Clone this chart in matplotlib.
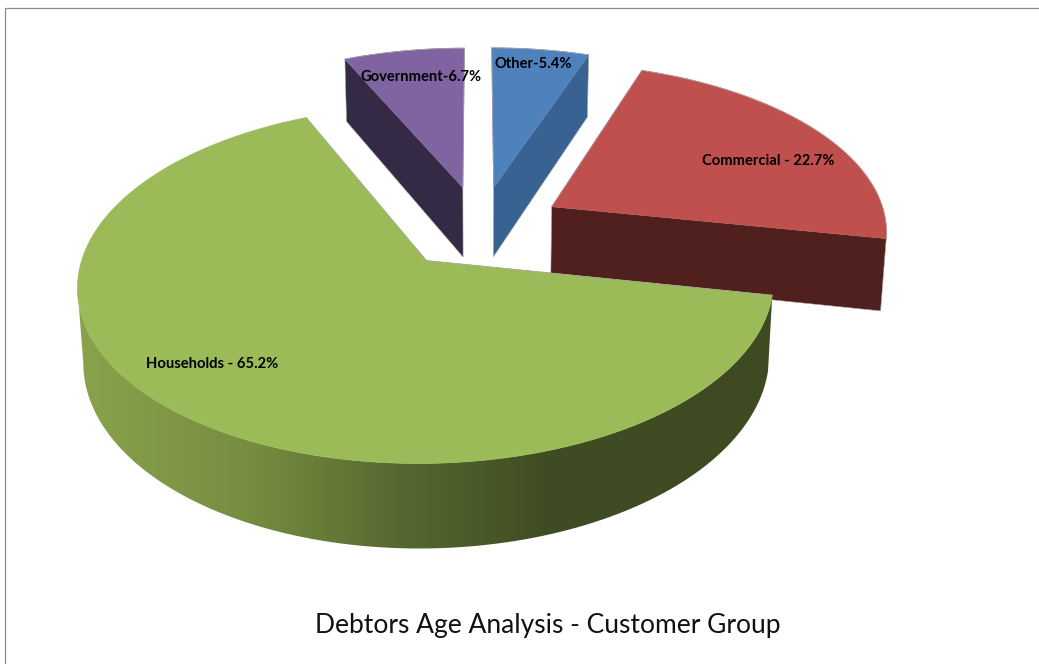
import numpy as np
import matplotlib
matplotlib.use("Agg")
import matplotlib.pyplot as plt
from matplotlib.colors import LinearSegmentedColormap
from matplotlib.patches import Polygon

# Debtors by customer group, percent of total
groups = ["Households", "Commercial", "Other", "Government"]
shares = [65.2, 22.7, 5.4, 6.7]
labels = ["Households - 65.2%", "Commercial - 22.7%", "Other-5.4%", "Government-6.7%"]
label_xy = [(212, 364), (768, 161), (533, 64), (421, 77)]
title = "Debtors Age Analysis - Customer Group"

top_colors = ["#9BBB59", "#C0504D", "#4F81BD", "#8064A2"]
wall_colors = [None, "#4F201D", "#386291", "#352A46"]
# Which radial edge of each slice shows its cut face: 0 = first, 1 = last, None = hidden
wall_edge = [None, 0, 0, 1]

# Shading of the curved rim of the largest slice, left to right in pixels
rim_stops_x = [70, 250, 400, 550, 775]
rim_stops_c = ["#8AA44D", "#768D40", "#566830", "#3F4C22", "#3F4A22"]

START_ANGLE = 114.2   # degrees, counter-clockwise sweep of the first slice
EXPLODE = 0.25
# Camera model for the tilted disc
X0, Y0, RX, RY = 480.0, 227.0, 336.0, 167.0
PERSP, SHRINK, THICK = 0.13, 0.014, 0.43
EDGE = "#A8A8A8"


def project(u, v, z=0.0):
    w = 1 + PERSP * v
    return X0 + RX * u / (w + SHRINK * z), Y0 - RY * (v - THICK * z) / w


def slice_geometry(a0, a1, n=240):
    mid = np.radians((a0 + a1) / 2)
    ox, oy = EXPLODE * np.cos(mid), EXPLODE * np.sin(mid)
    ang = np.radians(np.linspace(a0, a1, n))
    return ox, oy, ang


fig = plt.figure(figsize=(10.39, 6.64), dpi=100, facecolor="white")
ax = fig.add_axes([0, 0, 1, 1])

# Frame lines along the left and top only
ax.plot([4.5, 4.5, 1039], [664, 7.5, 7.5], color="#8C8C8C", lw=0.9, zorder=0,
        solid_joinstyle="miter")

rim_cmap = LinearSegmentedColormap.from_list(
    "rim",
    [((x - rim_stops_x[0]) / (rim_stops_x[-1] - rim_stops_x[0]), c)
     for x, c in zip(rim_stops_x, rim_stops_c)],
)

# Sweep spans: households runs counter-clockwise from the start angle, the rest follow
spans = []
angle = START_ANGLE
for s in shares:
    sweep = s * 3.6
    spans.append((angle, angle + sweep))
    angle += sweep

# Paint far slices first so the large slice overlaps the red cut face
order = [3, 2, 1, 0]
z = 2
for i in order:
    a0, a1 = spans[i]
    ox, oy, ang = slice_geometry(a0, a1)
    ux, vy = ox + np.cos(ang), oy + np.sin(ang)

    if wall_edge[i] is not None:
        a = ang[0] if wall_edge[i] == 0 else ang[-1]
        ex, ey = ox + np.cos(a), oy + np.sin(a)
        quad = [project(ox, oy), project(ex, ey), project(ex, ey, 1), project(ox, oy, 1)]
        ax.add_patch(Polygon(quad, closed=True, fc=wall_colors[i], ec=EDGE, lw=0.4, zorder=z))
        z += 1

    if wall_colors[i] is None:
        # Curved rim: a horizontal gradient clipped to the band between the two arcs,
        # starting from the leftmost point of the disc so the silhouette stays straight
        tx0, ty0 = project(ux, vy)
        tx1, ty1 = project(ux, vy, 1)
        s0 = int(np.argmin(tx0))
        band = Polygon(np.r_[np.c_[tx0[s0:], ty0[s0:]], np.c_[tx1[s0:], ty1[s0:]][::-1]], closed=True,
                       fc="none", ec="none", zorder=z)
        ax.add_patch(band)
        ramp = np.linspace(0, 1, 512)[None, :]
        im = ax.imshow(ramp, cmap=rim_cmap, vmin=0, vmax=1, aspect="auto", zorder=z,
                       extent=(rim_stops_x[0], rim_stops_x[-1], 664, 0), interpolation="bilinear")
        im.set_clip_path(band)
        z += 1

    tx, ty = project(np.r_[ox, ux], np.r_[oy, vy])
    ax.add_patch(Polygon(np.c_[tx, ty], closed=True, fc=top_colors[i], ec=top_colors[i], lw=0.5, zorder=z))
    z += 1

    # Thin grey outline on the edges that border the background
    apex = project(ox, oy)
    start = (tx[1], ty[1])
    end = (tx[-1], ty[-1])
    if wall_colors[i] is None:
        ax.plot([start[0], apex[0], end[0]], [start[1], apex[1], end[1]], color=EDGE, lw=0.5, zorder=z)
    else:
        ax.plot(tx[1:], ty[1:], color=EDGE, lw=0.5, zorder=z)
        free = end if wall_edge[i] == 0 else start
        ax.plot([apex[0], free[0]], [apex[1], free[1]], color=EDGE, lw=0.5, zorder=z)
    z += 1

for text, (lx, ly) in zip(labels, label_xy):
    ax.text(lx, ly, text, ha="center", va="center", family="Lato", weight="bold",
            fontsize=10.6, color="#000000", zorder=30)

ax.text(548, 626, title, ha="center", va="center", family="Lato", fontsize=19,
        color="#111111", zorder=30)

ax.set_xlim(0, 1039)
ax.set_ylim(664, 0)
ax.axis("off")

fig.savefig("out.png", dpi=100)
